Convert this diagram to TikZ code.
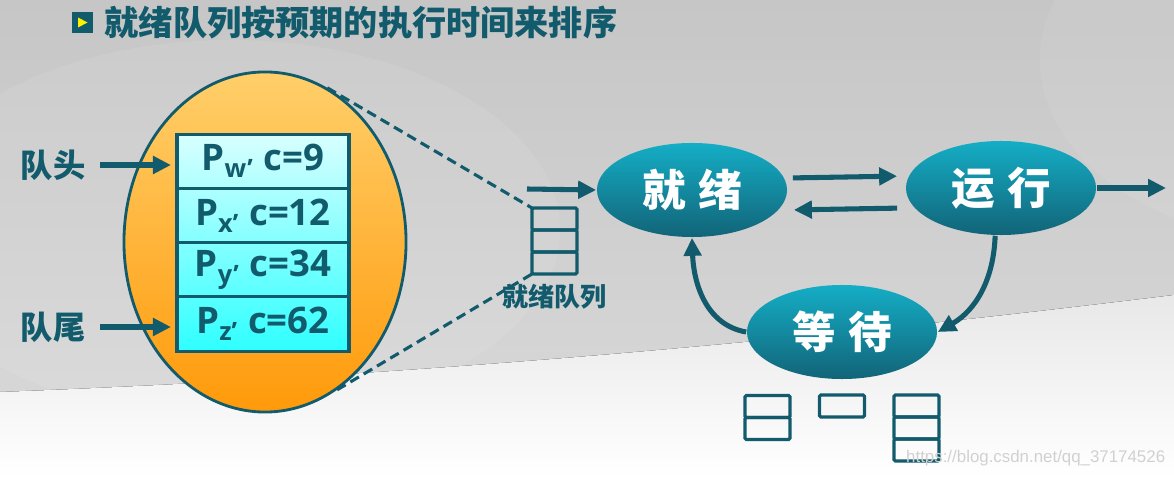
\documentclass[tikz,border=0pt]{standalone}
\usepackage{fontspec}
\setmainfont{Open Sans}
\newfontfamily\cjk{Noto Sans CJK SC}
\newfontfamily\wmfont{Liberation Sans}
\usetikzlibrary{arrows.meta, positioning, shapes.geometric, calc}
\definecolor{qteal}{HTML}{125B6C}
\definecolor{cstatetop}{HTML}{14AEC6}
\definecolor{cstatebot}{HTML}{126478}
\definecolor{cpooltop}{HTML}{FFCF6A}
\definecolor{cpoolbot}{HTML}{FF9A0A}
\definecolor{crowtop}{HTML}{D8FFFF}
\definecolor{crowbot}{HTML}{2EFFFF}
\definecolor{cbgtop}{HTML}{C6C6C6}
\definecolor{cbgmid}{HTML}{DADADA}
\definecolor{cbglow}{HTML}{E8E8E8}
\newcommand{\pentry}[2]{P\raisebox{-5pt}{\fontsize{18}{18}\selectfont #1'}\hspace{0.3em}c=#2}
\tikzset{
  every picture/.style={line width=1.2pt},
  state/.style={ellipse, minimum width=4.75cm, minimum height=2.35cm, inner sep=0pt,
    top color=cstatetop, bottom color=cstatebot, text=white,
    font=\cjk\bfseries\fontsize{31}{36}\selectfont},
  flow/.style={-{Triangle[length=0.45cm, width=0.43cm]}, draw=qteal, line width=3.6pt},
  cell/.style={draw=qteal, line width=2.2pt, rounded corners=1pt, minimum width=1.125cm,
    minimum height=0.55cm, inner sep=0pt, outer sep=0pt},
  row/.style={draw=qteal, line width=2.2pt, minimum width=4.3cm, minimum height=1.356cm,
    inner sep=0pt, outer sep=0pt, text=qteal, font=\bfseries\fontsize{26}{30}\selectfont},
  tag/.style={text=qteal, font=\cjk\bfseries\fontsize{23}{28}\selectfont, inner sep=0pt},
  dashline/.style={draw=qteal, line width=2.2pt, dash pattern=on 7pt off 4pt},
}
\begin{document}
\begin{tikzpicture}[x=0.025cm, y=-0.025cm]
  \useasboundingbox (0,0) rectangle (1174,477);
  % background
  \begin{scope}
    \clip (0,0) rectangle (1174,477);
    \fill[top color=cbgtop, bottom color=cbgmid] (0,0) rectangle (1174,477);
    \fill[white, opacity=0.08] (230,230) ellipse [x radius=330, y radius=190];
    \fill[white, opacity=0.07] (1300,60) ellipse [x radius=260, y radius=180];
    \fill[top color=cbglow, bottom color=white] (0,392) .. controls (450,375) and (850,335) .. (1174,295)
      -- (1174,477) -- (0,477) -- cycle;
  \end{scope}

  % title
  \node[fill=qteal, minimum size=0.525cm, inner sep=0pt] (bullet) at (82.5,22.5) {};
  \fill[yellow] ($(bullet)+(-4.5,-5)$) -- ($(bullet)+(-4.5,5)$) -- ($(bullet)+(5,0)$) -- cycle;
  \node[anchor=west, right=0.25cm of bullet, text=qteal, inner sep=0pt,
    font=\cjk\bfseries\fontsize{24.3}{29}\selectfont] (title) {就绪队列按预期的执行时间来排序};

  % ready queue, enlarged
  \node[ellipse, draw=qteal, line width=2pt, top color=cpooltop, bottom color=cpoolbot,
    minimum width=7.05cm, minimum height=8.5cm] (pool) at (265,242) {};
  \node[top color=crowtop, bottom color=crowbot, minimum width=4.3cm, minimum height=5.425cm,
    inner sep=0pt] (tbl) at (263,243.5) {};
  \node[row, anchor=north] (rowW) at (tbl.north) {\pentry{w}{9}};
  \node[row, below=0pt of rowW] (rowX) {\pentry{x}{12}};
  \node[row, below=0pt of rowX] (rowY) {\pentry{y}{34}};
  \node[row, below=0pt of rowY] (rowZ) {\pentry{z}{62}};

  \node[tag] (head) at (53,165) {队头};
  \node[tag] (tail) at (53,327) {队尾};
  \draw[flow, shorten <=0.35cm, shorten >=0.15cm] (head.east) -- (head.east -| rowW.west);
  \draw[flow, shorten <=0.35cm, shorten >=0.15cm] (tail.east) -- (tail.east -| rowZ.west);

  % small ready queue
  \node[cell] (rq1) at (554.5,219) {};
  \node[cell, below=0pt of rq1] (rq2) {};
  \node[cell, below=0pt of rq2] (rq3) {};
  \node[tag, font=\cjk\bfseries\fontsize{18.5}{22}\selectfont, below=0.22cm of rq3] (rqname) {就绪队列};
  \draw[dashline] (pool.68) -- (rq1.north west);
  \draw[dashline] (pool.-64) -- (rq3.south west);

  % states
  \node[state] (ready) at (692,190) {就\hspace{0.28em}绪};
  \node[state] (run) at (1001,188) {运\hspace{0.28em}行};
  \node[state] (wait) at (842,332) {等\hspace{0.28em}待};
  \coordinate (inq) at (527,189);
  \coordinate (done) at (1166,188);

  \draw[flow] (inq) -- (ready.west);
  \draw[flow, shorten <=0.125cm, shorten >=0.2cm] ([yshift=0.3cm]ready.east) -- ([yshift=0.3cm]run.west);
  \draw[flow, shorten <=0.2cm, shorten >=0.15cm] ([yshift=-0.5cm]run.west) -- ([yshift=-0.5cm]ready.east);
  \draw[flow] (run.east) -- (done);
  \draw[flow] (run.-97) to[out=-92, in=30] (wait.east);
  \draw[flow] (wait.west) to[out=170, in=-88] (ready.south);

  % waiting queues
  \node[cell] (wa1) at (767.5,406.5) {};
  \node[cell, below=0pt of wa1] (wa2) {};
  \node[cell] (wb1) at (842,406) {};
  \node[cell] (wc1) at (916.5,406) {};
  \node[cell, below=0pt of wc1] (wc2) {};
  \node[cell, below=0pt of wc2] (wc3) {};

  \node[text=black!18, font=\wmfont\fontsize{12}{14}\selectfont, anchor=east, inner sep=0pt] (mark) at (1166,458)
    {https://blog.csdn.net/qq\_37174526};
\end{tikzpicture}
\end{document}
